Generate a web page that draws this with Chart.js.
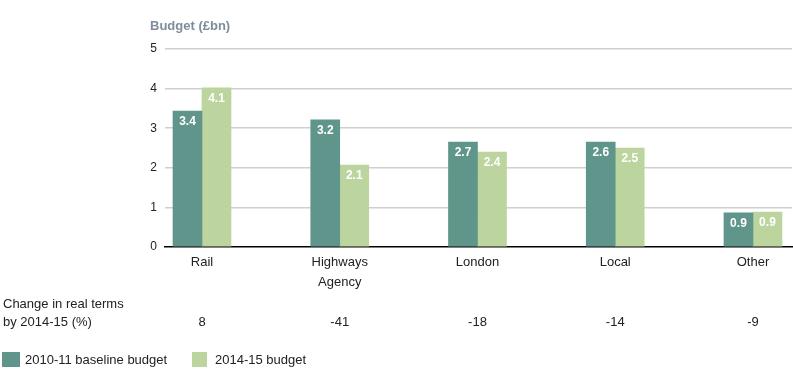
<!DOCTYPE html>
<html>
<head>
<meta charset="utf-8">
<script src="https://cdn.jsdelivr.net/npm/chart.js@4/dist/chart.umd.min.js"></script>
<style>
html,body{margin:0;padding:0;background:#fff;overflow:hidden;}
#wrap{position:relative;width:793px;height:372px;}
</style>
</head>
<body>
<div id="wrap"><canvas id="c" width="793" height="372"></canvas></div>
<script>
// ---- data ----
const categories = [["Rail"], ["Highways", "Agency"], ["London"], ["Local"], ["Other"]];
const seriesNames = ["2010-11 baseline budget", "2014-15 budget"];
const baseline2010 = [3.43, 3.21, 2.65, 2.65, 0.86];
const budget2014 = [4.02, 2.07, 2.40, 2.50, 0.88];
const baselineLabels = ["3.4", "3.2", "2.7", "2.6", "0.9"];
const budgetLabels = ["4.1", "2.1", "2.4", "2.5", "0.9"];
const changePct = ["8", "-41", "-18", "-14", "-9"];
const yTicks = [0, 1, 2, 3, 4, 5];
const yTitle = "Budget (£bn)";
const changeTitle = ["Change in real terms", "by 2014-15 (%)"];

const colors = ["#5f958a", "#bcd59f"];
const FONT = "'Liberation Sans', Arial, Helvetica, sans-serif";

const valueLabels = [baselineLabels, budgetLabels];

const extrasPlugin = {
  id: 'extras',
  afterDatasetsDraw(chart) {
    const ctx = chart.ctx;
    ctx.save();
    ctx.fillStyle = '#ffffff';
    ctx.font = "bold 12px " + FONT;
    ctx.textAlign = 'center';
    ctx.textBaseline = 'middle';
    chart.data.datasets.forEach((ds, di) => {
      const meta = chart.getDatasetMeta(di);
      meta.data.forEach((el, i) => {
        ctx.fillText(valueLabels[di][i], el.x, el.y + 11);
      });
    });
    ctx.restore();
  },
  afterDraw(chart) {
    const ctx = chart.ctx;
    const xs = chart.scales.x;
    ctx.save();
    // y title
    ctx.fillStyle = '#7f8d9b';
    ctx.font = "bold 13px " + FONT;
    ctx.textAlign = 'left';
    ctx.textBaseline = 'middle';
    ctx.fillText(yTitle, 150, 26);
    // change row
    ctx.fillStyle = '#222222';
    ctx.font = "13px " + FONT;
    ctx.fillText(changeTitle[0], 3, 304);
    ctx.fillText(changeTitle[1], 3, 322);
    ctx.textAlign = 'center';
    changePct.forEach((v, i) => {
      ctx.fillText(v, xs.getPixelForValue(i), 322);
    });
    // legend
    const boxes = [[2, 18, 25], [192, 15, 215]];
    chart.data.datasets.forEach((ds, di) => {
      const b = boxes[di];
      ctx.fillStyle = ds.backgroundColor;
      ctx.fillRect(b[0], 352, b[1], 15);
      ctx.fillStyle = '#222222';
      ctx.textAlign = 'left';
      ctx.fillText(ds.label, b[2], 360);
    });
    ctx.restore();
  }
};

const xMin = -0.2686, xMax = 4.2834;

new Chart(document.getElementById('c'), {
  type: 'bar',
  data: {
    datasets: [
      { label: seriesNames[0], data: baseline2010.map((v, i) => ({x: i, y: v})), backgroundColor: colors[0], barThickness: 29 },
      { label: seriesNames[1], data: budget2014.map((v, i) => ({x: i, y: v})), backgroundColor: colors[1], barThickness: 29 }
    ]
  },
  options: {
    responsive: false,
    animation: false,
    devicePixelRatio: 1,
    layout: { padding: { left: 0, right: 1, top: 49, bottom: 0 } },
    plugins: { legend: { display: false }, tooltip: { enabled: false }, title: { display: false } },
    scales: {
      x: {
        type: 'linear',
        offset: false,
        min: xMin,
        max: xMax,
        afterBuildTicks: (s) => { s.ticks = categories.map((c, i) => ({ value: i })); },
        afterFit: (s) => { s.height = 125; },
        grid: { display: false, drawTicks: false, offset: false },
        border: { display: true, color: '#000000', width: 1.5 },
        ticks: {
          autoSkip: false,
          maxRotation: 0,
          padding: 6,
          color: '#222222',
          font: { family: FONT, size: 13, lineHeight: 1.5 },
          callback: (v) => categories[Math.round(v)]
        }
      },
      y: {
        min: 0,
        max: 5,
        afterBuildTicks: (s) => { s.ticks = yTicks.map(v => ({ value: v })); },
        afterFit: (s) => { s.width = 165; },
        grid: { color: (c) => c.tick && c.tick.value === 0 ? 'rgba(0,0,0,0)' : '#d0d0d0', lineWidth: 1.5, drawTicks: false },
        border: { display: false },
        ticks: { padding: 8, color: '#222222', font: { family: FONT, size: 12 } }
      }
    }
  },
  plugins: [extrasPlugin]
});
</script>
</body>
</html>
